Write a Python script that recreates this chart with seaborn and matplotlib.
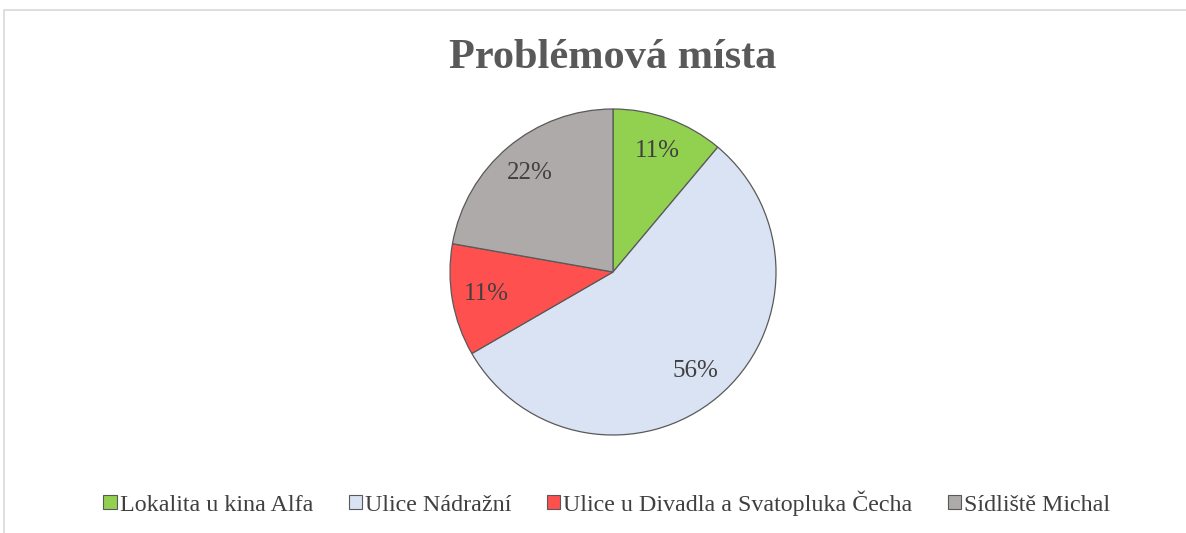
import matplotlib
matplotlib.use("Agg")
import matplotlib.pyplot as plt
from matplotlib.patches import Rectangle, Patch
import seaborn as sns

# data
mista = ["Lokalita u kina Alfa", "Ulice Nádražní",
         "Ulice u Divadla a Svatopluka Čecha", "Sídliště Michal"]
pocty = [1, 5, 1, 2]
barvy = ["#92D050", "#DAE3F3", "#FF5050", "#AEAAAA"]

sns.set_theme(style="white")
plt.rcParams["font.family"] = ["Liberation Serif", "DejaVu Serif"]

W, H = 1186, 533
fig = plt.figure(figsize=(W / 100, H / 100), dpi=100)

# chart frame (runs off the right and bottom edge)
fig.patches.append(Rectangle((4 / W, -0.1), 1.2, 1 - 10 / H + 0.1,
                             transform=fig.transFigure, fill=False,
                             edgecolor="#D9D9D9", linewidth=1.2))

# pie axes: centre (613, 272), radius ~163 px
r = 163
cx, cy = 613, 272
ax = fig.add_axes([(cx - r) / W, 1 - (cy + r) / H, 2 * r / W, 2 * r / H])
wedges, texts, autotexts = ax.pie(
    pocty, colors=sns.color_palette(barvy), startangle=90, counterclock=False,
    autopct=lambda p: f"{p:.0f}%", pctdistance=0.79,
    wedgeprops=dict(edgecolor="#595959", linewidth=0.9),
    textprops=dict(color="#404040", fontsize=18))
ax.set_aspect("equal")
ax.set_xlim(-1, 1)
ax.set_ylim(-1, 1)
ax.axis("off")

fig.text(cx / W, 1 - 58 / H, "Problémová místa", ha="center", va="center",
         fontsize=30.5, fontweight="bold", color="#595959")

handles = [Patch(facecolor=c, edgecolor="#595959", linewidth=0.8) for c in barvy]
fig.legend(handles, mista, loc="center", bbox_to_anchor=(607 / W, 1 - 503 / H),
           ncol=4, frameon=False, fontsize=17.3, handlelength=0.55,
           handleheight=0.55, handletextpad=0.15, columnspacing=1.45,
           labelcolor="#404040")

fig.savefig("out.png", dpi=100, facecolor="white")
